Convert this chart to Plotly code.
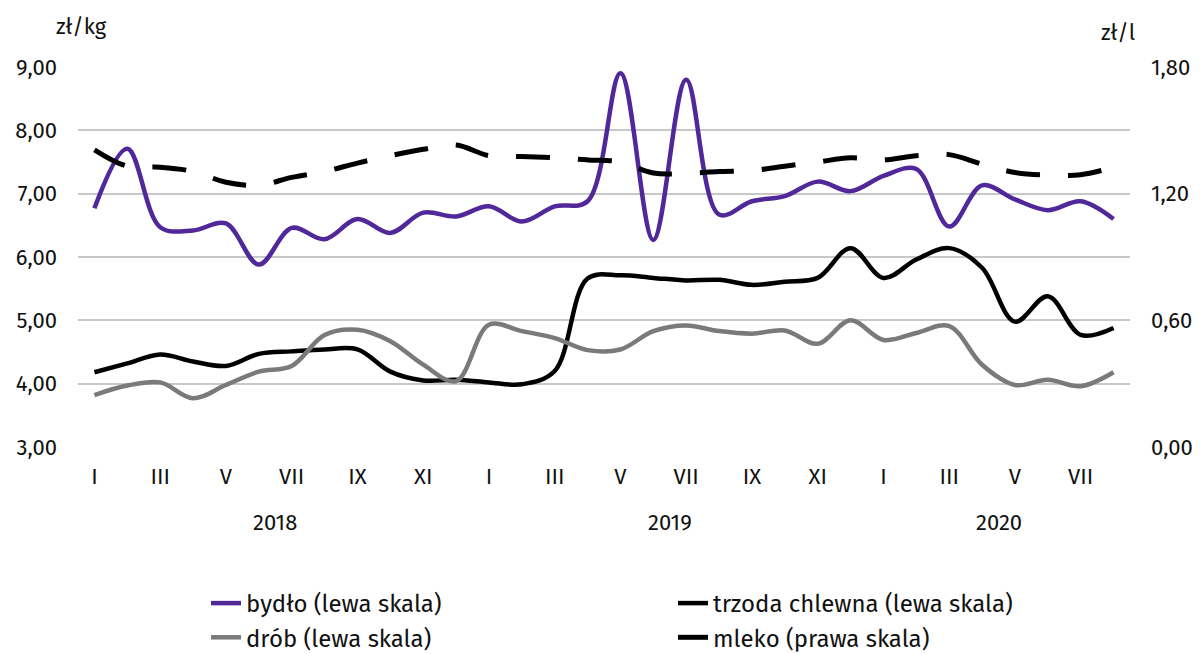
import plotly.graph_objects as go

months = ["I","II","III","IV","V","VI","VII","VIII","IX","X","XI","XII",
          "I","II","III","IV","V","VI","VII","VIII","IX","X","XI","XII",
          "I","II","III","IV","V","VI","VII","VIII"]
years = ["2018", "2019", "2020"]

bydlo = [6.77, 7.71, 6.47, 6.42, 6.53, 5.88, 6.46, 6.28, 6.60, 6.38, 6.70, 6.64,
         6.80, 6.56, 6.80, 6.88, 8.90, 6.27, 8.80, 6.67, 6.88, 6.96, 7.19, 7.04,
         7.28, 7.39, 6.48, 7.13, 6.91, 6.74, 6.88, 6.60]
trzoda = [4.18, 4.32, 4.46, 4.35, 4.28, 4.47, 4.51, 4.54, 4.54, 4.19, 4.05, 4.06,
          4.02, 3.99, 4.20, 5.66, 5.71, 5.67, 5.63, 5.64, 5.56, 5.61, 5.67, 6.14,
          5.67, 5.96, 6.14, 5.83, 4.98, 5.38, 4.77, 4.88]
drob = [3.82, 3.97, 4.02, 3.77, 3.98, 4.19, 4.28, 4.77, 4.85, 4.67, 4.30, 4.04,
        4.93, 4.83, 4.72, 4.53, 4.54, 4.83, 4.92, 4.83, 4.79, 4.84, 4.63, 5.00,
        4.69, 4.80, 4.91, 4.30, 3.98, 4.06, 3.96, 4.18]
mleko = [1.408, 1.33, 1.325, 1.305, 1.254, 1.24, 1.277, 1.305, 1.345, 1.38, 1.41, 1.43,
         1.38, 1.376, 1.37, 1.36, 1.35, 1.298, 1.296, 1.305, 1.31, 1.33, 1.35, 1.37,
         1.36, 1.38, 1.385, 1.34, 1.30, 1.288, 1.29, 1.325]

left_ticks = [3, 4, 5, 6, 7, 8, 9]
left_labels = ["3,00", "4,00", "5,00", "6,00", "7,00", "8,00", "9,00"]
right_ticks = [0, 0.6, 1.2, 1.8]
right_labels = ["0,00", "0,60", "1,20", "1,80"]

x = list(range(len(months)))
FONT = "Fira Sans, Roboto, Noto Sans, sans-serif"
PURPLE = "#51289A"
GRAY = "#7A7A7A"
TXT = "#111111"

# page offset (default body margin of the html page)
OFF = 8
PL, PR, PT, PB = 78, 1130, 67, 447   # plot rect in page pixels
PW, PH = PR - PL, PB - PT


def px_x(xp):
    return (xp - PL) / PW


def px_y(yp):
    return (PB - yp) / PH


fig = go.Figure()
fig.add_trace(go.Scatter(x=x, y=bydlo, name="bydło (lewa skala)", mode="lines", legend="legend",
                         line=dict(color=PURPLE, width=4.5, shape="spline", smoothing=1)))
fig.add_trace(go.Scatter(x=x, y=trzoda, name="trzoda chlewna (lewa skala)", mode="lines",
                         legend="legend2",
                         line=dict(color="#000000", width=4.5, shape="spline", smoothing=1)))
fig.add_trace(go.Scatter(x=x, y=drob, name="drób (lewa skala)", mode="lines", legend="legend",
                         line=dict(color=GRAY, width=4.5, shape="spline", smoothing=1)))
fig.add_trace(go.Scatter(x=x, y=mleko, name="mleko (prawa skala)", mode="lines", yaxis="y2",
                         legend="legend2",
                         line=dict(color="#000000", width=5, shape="spline", smoothing=1,
                                   dash="34px,28px")))

tick_pos = x[::2]
tick_txt = months[::2]

leg_common = dict(orientation="v", xanchor="left", yanchor="top", y=px_y(581),
                  font=dict(size=24, color=TXT), traceorder="normal",
                  bgcolor="rgba(0,0,0,0)", tracegroupgap=0)

W, H = 1200 - OFF, 654 - OFF
fig.update_layout(
    width=W, height=H,
    margin=dict(l=PL - OFF, r=W - (PR - OFF), t=PT - OFF, b=H - (PB - OFF), autoexpand=False),
    paper_bgcolor="white", plot_bgcolor="white",
    font=dict(family=FONT, size=22, color=TXT),
    xaxis=dict(range=[-0.5, 31.5], tickvals=tick_pos, ticktext=tick_txt,
               showgrid=False, zeroline=False, showline=False, ticks="",
               automargin=False, ticklabelstandoff=14, tickfont=dict(size=22)),
    yaxis=dict(range=[3, 9], tickvals=left_ticks, ticktext=left_labels,
               showgrid=True, gridcolor="#C8C8C8", gridwidth=2, zeroline=False,
               automargin=False, ticks="", ticklabelstandoff=20, tickfont=dict(size=22)),
    yaxis2=dict(range=[0, 1.8], tickvals=right_ticks, ticktext=right_labels,
                overlaying="y", side="right", showgrid=False, zeroline=False,
                automargin=False, ticks="", ticklabelstandoff=20, tickfont=dict(size=22)),
    legend=dict(x=px_x(206), **leg_common),
    legend2=dict(x=px_x(673), **leg_common),
    showlegend=True,
)

year_pos = [5.5, 17.5, 27.5]
for yr, xp in zip(years, year_pos):
    fig.add_annotation(x=xp, y=px_y(522), xref="x", yref="paper", text=yr,
                       showarrow=False, font=dict(size=22), yanchor="middle", xanchor="center")

fig.add_annotation(x=px_x(81), y=px_y(26), xref="paper", yref="paper",
                   text="zł/kg", showarrow=False, font=dict(size=22),
                   yanchor="middle", xanchor="center")
fig.add_annotation(x=px_x(1118), y=px_y(33), xref="paper", yref="paper",
                   text="zł/l", showarrow=False, font=dict(size=22),
                   yanchor="middle", xanchor="center")

fig.write_html("out.html")
